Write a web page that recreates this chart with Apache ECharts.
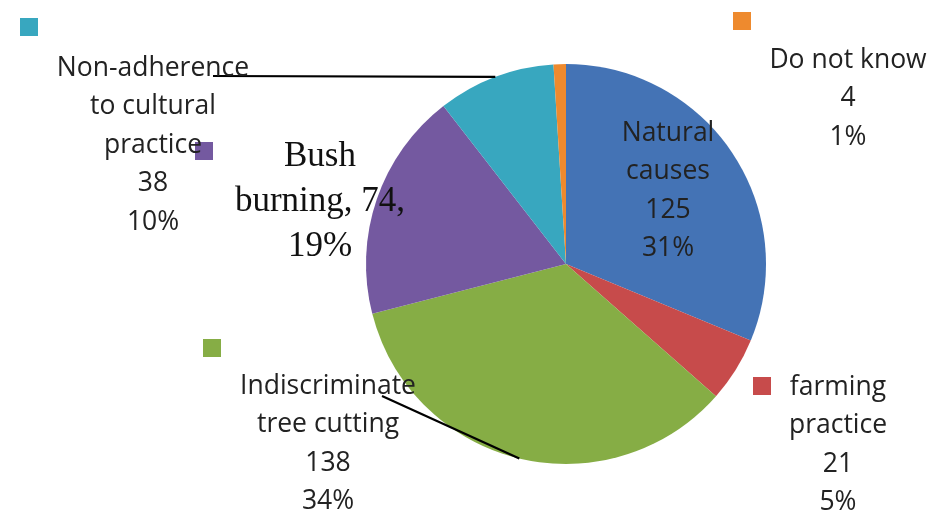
<!DOCTYPE html>
<html>
<head>
<meta charset="utf-8">
<script src="https://cdn.jsdelivr.net/npm/echarts@6/dist/echarts.min.js"></script>
<style>html,body{margin:0;padding:0;background:#fff;}#c{width:935px;height:529px;}</style>
</head>
<body>
<div id="c"></div>
<script>
var categories = ['Natural\ncauses', 'farming\npractice', 'Indiscriminate\ntree cutting', 'Bush\nburning', 'Non-adherence\nto cultural\npractice', 'Do not know'];
var values = [125, 21, 138, 74, 38, 4];
var percents = ['31%', '5%', '34%', '19%', '10%', '1%'];
var colors = ['#4473B5', '#C74B4B', '#86AD45', '#7459A0', '#38A7BF', '#EE8A2E'];

var labelPos = [
  {x: 668, y: 114}, {x: 838, y: 368}, {x: 328, y: 367}, {x: 320, y: 134}, {x: 153, y: 49}, {x: 848, y: 41}
];
var keyPos = [null, [753, 377], [203, 339], [195, 142], [20, 18], [733, 12]];
var lineEnds = {2: [382, 396], 4: [213, 76]};

var chart = echarts.init(document.getElementById('c'));

function makeData(withLabels) {
  return values.map(function (v, i) {
    var d = {name: categories[i], value: v};
    if (withLabels) {
      d.itemStyle = {color: 'rgba(0,0,0,0)'};
      if (i === 3) {
        d.label = {fontFamily: 'Liberation Serif', fontSize: 35, lineHeight: 45, color: '#111'};
      }
      d.labelLine = {show: (i === 2 || i === 4)};
    } else {
      d.itemStyle = {color: colors[i]};
    }
    return d;
  });
}

var graphics = [];
keyPos.forEach(function (p, i) {
  if (!p) return;
  graphics.push({type: 'rect', left: p[0], top: p[1], shape: {width: 18, height: 18}, style: {fill: colors[i]}, silent: true});
});

chart.setOption({
  animation: false,
  backgroundColor: '#fff',
  graphic: graphics,
  series: [{
    type: 'pie',
    center: [566, 264],
    radius: 200,
    startAngle: 90,
    clockwise: true,
    silent: true,
    label: {show: false},
    labelLine: {show: false},
    data: makeData(false)
  }, {
    type: 'pie',
    z: 5,
    center: [566, 264],
    radius: 200,
    startAngle: 90,
    clockwise: true,
    silent: true,
    data: makeData(true),
    label: {
      show: true,
      position: 'outside',
      fontFamily: 'Open Sans',
      fontSize: 26.5,
      lineHeight: 38.5,
      color: '#222',
      align: 'center',
      formatter: function (p) {
        if (p.dataIndex === 3) return 'Bush\nburning, ' + p.value + ',\n' + percents[p.dataIndex];
        return p.name + '\n' + p.value + '\n' + percents[p.dataIndex];
      }
    },
    labelLine: {lineStyle: {color: '#000', width: 2.2}, length: 10, length2: 10},
    labelLayout: function (params) {
      var i = params.dataIndex;
      var res = {x: labelPos[i].x, y: labelPos[i].y, align: 'center', verticalAlign: 'top'};
      if (lineEnds[i] && params.labelLinePoints) {
        var s = params.labelLinePoints[0];
        res.labelLinePoints = [s, lineEnds[i], lineEnds[i]];
      }
      return res;
    }
  }]
});
</script>
</body>
</html>
